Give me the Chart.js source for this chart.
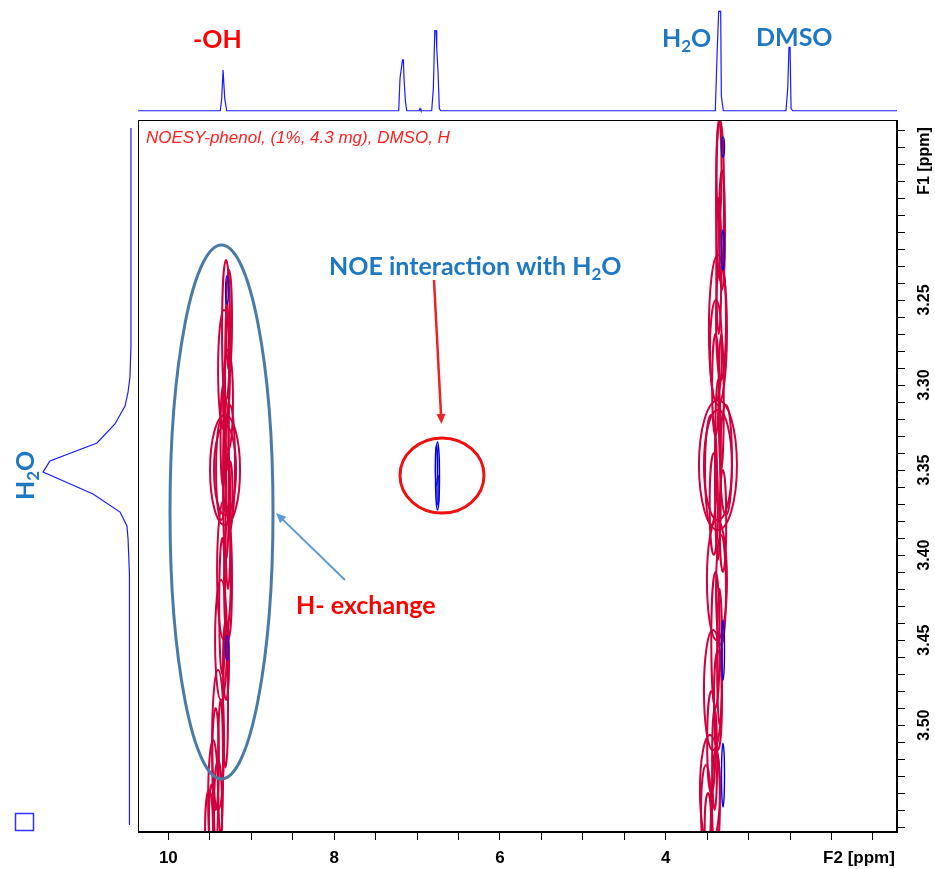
<!DOCTYPE html>
<html>
<head>
<meta charset="utf-8">
<title>NOESY phenol</title>
<script src="https://cdn.jsdelivr.net/npm/chart.js@4.4.1/dist/chart.umd.min.js"></script>
<style>
  html, body { margin: 0; padding: 0; background: #fff; }
  #wrap { position: relative; width: 935px; height: 869px; }
  #wrap canvas { position: absolute; }
  #main { left: 0; top: 0; }
  #top { left: 138px; top: 0; }
  #side { left: 0; top: 120px; }
</style>
</head>
<body>
<div id="wrap">
  <canvas id="main" width="935" height="869"></canvas>
  <canvas id="top" width="759" height="113"></canvas>
  <canvas id="side" width="138" height="712"></canvas>
</div>
<script>
// ---- axis ranges (ppm) ----
const F2_MIN = 1.210, F2_MAX = 10.366;
const F1_MIN = 3.1441, F1_MAX = 3.5629;

// ---- tick labels ----
const f2Labels = [10, 8, 6, 4];
const f1Labels = [3.25, 3.30, 3.35, 3.40, 3.45, 3.50];

// ---- 1D F2 trace on top: ppm / intensity ----
const specPpm = [10.366, 9.373, 9.356, 9.340, 9.330, 9.320, 9.296,
  7.221, 7.205, 7.175, 7.165, 7.157, 7.141, 7.124,
  6.975, 6.964, 6.953,
  6.823, 6.803, 6.786, 6.771, 6.762, 6.747, 6.731, 6.714,
  3.402, 3.378, 3.361, 3.337, 3.329, 3.305,
  2.549, 2.528, 2.513, 2.500, 2.488, 2.468, 1.210];
const specInt = [2, 2, 13, 38, 38, 13, 2,
  2, 31, 47, 47, 31, 11, 2,
  2, 4, 2,
  2, 22, 73, 73, 57, 37, 4, 2,
  2, 57, 90, 90, 15, 2,
  2, 22, 58, 58, 4, 2, 2];

// ---- 1D F1 projection on the left: ppm / intensity ----
const projPpm = [3.1488, 3.2771, 3.2950, 3.3041, 3.3124, 3.3229, 3.3341, 3.3447, 3.3512,
  3.3641, 3.3747, 3.3829, 3.3906, 3.4112, 3.5588];
const projInt = [5.1, 5.1, 5.8, 7.2, 9.4, 16.7, 29.7, 63.8, 68.8,
  32.6, 13, 8, 7.2, 6.2, 6.2];

// ---- 2D contours: [F2 centre, F1 centre, F2 half width, F1 half height] ----
const ohContours = [
  [9.304, 3.2676, 0.048, 0.0412], [9.268, 3.2618, 0.036, 0.0294], [9.328, 3.2912, 0.072, 0.0353],
  [9.280, 3.3088, 0.060, 0.0294], [9.316, 3.3500, 0.181, 0.0324], [9.316, 3.3500, 0.133, 0.0265],
  [9.364, 3.3500, 0.060, 0.0294], [9.256, 3.3471, 0.060, 0.0353], [9.304, 3.3559, 0.036, 0.0471],
  [9.328, 3.4088, 0.084, 0.0412], [9.280, 3.4147, 0.048, 0.0353], [9.364, 3.4500, 0.072, 0.0353],
  [9.304, 3.4618, 0.036, 0.0235], [9.400, 3.5088, 0.072, 0.0412], [9.460, 3.5441, 0.060, 0.0353],
  [9.400, 3.5500, 0.048, 0.0294], [9.509, 3.5618, 0.048, 0.0235],
  [9.292, 3.3000, 0.024, 0.0500], [9.340, 3.3300, 0.030, 0.0300], [9.280, 3.3800, 0.030, 0.0400],
  [9.350, 3.4300, 0.036, 0.0400], [9.310, 3.4900, 0.030, 0.0350], [9.430, 3.5200, 0.040, 0.0300],
  [9.480, 3.5550, 0.030, 0.0200], [9.370, 3.5250, 0.030, 0.0400], [9.250, 3.3650, 0.024, 0.0200]
];
const h2oContours = [
  [3.345, 3.1912, 0.048, 0.0471], [3.357, 3.1735, 0.030, 0.0294], [3.321, 3.2088, 0.036, 0.0353],
  [3.370, 3.2676, 0.109, 0.0441], [3.333, 3.2618, 0.060, 0.0353], [3.394, 3.2794, 0.072, 0.0294],
  [3.370, 3.3471, 0.229, 0.0382], [3.370, 3.3471, 0.169, 0.0324], [3.454, 3.3500, 0.072, 0.0324],
  [3.273, 3.3441, 0.072, 0.0324], [3.370, 3.3500, 0.036, 0.0529], [3.382, 3.4147, 0.121, 0.0353],
  [3.333, 3.4206, 0.060, 0.0324], [3.430, 3.4794, 0.109, 0.0353], [3.370, 3.4853, 0.048, 0.0294],
  [3.466, 3.5382, 0.121, 0.0324], [3.514, 3.5500, 0.060, 0.0265], [3.394, 3.5441, 0.048, 0.0294],
  [3.360, 3.2300, 0.030, 0.0400], [3.400, 3.3000, 0.040, 0.0300], [3.330, 3.3100, 0.030, 0.0400],
  [3.420, 3.3700, 0.050, 0.0300], [3.310, 3.3800, 0.040, 0.0300], [3.400, 3.4500, 0.050, 0.0400],
  [3.350, 3.4600, 0.030, 0.0400], [3.450, 3.5100, 0.050, 0.0300], [3.490, 3.5600, 0.040, 0.0200],
  [3.410, 3.5200, 0.030, 0.0300]
];
const negContours = [
  [9.292, 3.2441, 0.018, 0.0082], [9.292, 3.4547, 0.018, 0.0071],
  [3.309, 3.1600, 0.018, 0.0059], [3.309, 3.2206, 0.018, 0.0118],
  [3.309, 3.4559, 0.018, 0.0176], [3.309, 3.5294, 0.018, 0.0188],
  [6.753, 3.3535, 0.024, 0.0200], [6.765, 3.3471, 0.014, 0.0118], [6.747, 3.3618, 0.0120, 0.0088]
];

const RED = '#d0003c', BLUE = '#0000e6', TXT_BLUE = '#1e78c2', TXT_RED = '#ff0000';
const FONT = 'Lato, "Open Sans", sans-serif';

function drawContours(ctx, x, y, list, color, lw) {
  ctx.strokeStyle = color;
  ctx.lineWidth = lw;
  list.forEach(([cx, cy, rx, ry]) => {
    const px = x.getPixelForValue(cx), py = y.getPixelForValue(cy);
    const w = Math.abs(x.getPixelForValue(cx + rx) - px);
    const h = Math.abs(y.getPixelForValue(cy + ry) - py);
    ctx.beginPath();
    ctx.ellipse(px, py, w, h, 0, 0, Math.PI * 2);
    ctx.stroke();
  });
}

function arrow(ctx, x1, y1, x2, y2, color, lw, head) {
  const a = Math.atan2(y2 - y1, x2 - x1);
  ctx.strokeStyle = color; ctx.fillStyle = color; ctx.lineWidth = lw;
  ctx.beginPath();
  ctx.moveTo(x1, y1);
  ctx.lineTo(x2 - Math.cos(a) * head * 0.8, y2 - Math.sin(a) * head * 0.8);
  ctx.stroke();
  ctx.beginPath();
  ctx.moveTo(x2, y2);
  ctx.lineTo(x2 - head * Math.cos(a - 0.42), y2 - head * Math.sin(a - 0.42));
  ctx.lineTo(x2 - head * Math.cos(a + 0.42), y2 - head * Math.sin(a + 0.42));
  ctx.closePath();
  ctx.fill();
}

// text with a subscript "2": before, sub, after
function subText(ctx, before, sub, after, x, y, size) {
  ctx.font = 'bold ' + size + 'px ' + FONT;
  ctx.fillText(before, x, y);
  x += ctx.measureText(before).width;
  ctx.font = 'bold ' + Math.round(size * 0.66) + 'px ' + FONT;
  ctx.fillText(sub, x, y + size * 0.2);
  x += ctx.measureText(sub).width;
  ctx.font = 'bold ' + size + 'px ' + FONT;
  ctx.fillText(after, x, y);
}

function ellipse(ctx, cx, cy, rx, ry, color, lw) {
  ctx.strokeStyle = color; ctx.lineWidth = lw;
  ctx.beginPath();
  ctx.ellipse(cx, cy, rx, ry, 0, 0, Math.PI * 2);
  ctx.stroke();
}

const decor = {
  id: 'decor',
  afterDraw(chart) {
    const { ctx, chartArea: a, scales: { x, y } } = chart;

    // contours, clipped to the plot
    ctx.save();
    ctx.beginPath();
    ctx.rect(a.left, a.top, a.right - a.left, a.bottom - a.top);
    ctx.clip();
    drawContours(ctx, x, y, ohContours, RED, 2);
    drawContours(ctx, x, y, h2oContours, RED, 2);
    drawContours(ctx, x, y, negContours, BLUE, 1.4);
    ctx.restore();

    ctx.save();
    // frame
    ctx.strokeStyle = '#000'; ctx.lineWidth = 1;
    ctx.strokeRect(a.left + 0.5, a.top + 0.5, a.right - a.left - 1, a.bottom - a.top - 1);

    // tick labels
    ctx.fillStyle = '#000';
    ctx.font = 'bold 17px "Liberation Sans", Arial, sans-serif';
    ctx.textAlign = 'center'; ctx.textBaseline = 'middle';
    f2Labels.forEach(v => ctx.fillText(String(v), x.getPixelForValue(v), 858));
    ctx.fillText('F2 [ppm]', 859, 858);
    ctx.font = 'bold 16px "Liberation Sans", Arial, sans-serif';
    f1Labels.forEach(v => {
      ctx.save();
      ctx.translate(925, y.getPixelForValue(v));
      ctx.rotate(-Math.PI / 2);
      ctx.fillText(v.toFixed(2), 0, 0);
      ctx.restore();
    });
    ctx.save();
    ctx.translate(925, 161);
    ctx.rotate(-Math.PI / 2);
    ctx.fillText('F1 [ppm]', 0, 0);
    ctx.restore();

    // title in the plot
    ctx.textAlign = 'left'; ctx.textBaseline = 'alphabetic';
    ctx.fillStyle = '#ff2020';
    ctx.font = 'italic 17px "Liberation Sans", Arial, sans-serif';
    ctx.fillText('NOESY-phenol, (1%, 4.3 mg), DMSO, H', 146, 143);

    // peak labels above the 1D trace
    ctx.fillStyle = TXT_RED;
    ctx.font = 'bold 25px ' + FONT;
    ctx.fillText('-OH', 193, 48);
    ctx.fillStyle = TXT_BLUE;
    subText(ctx, 'H', '2', 'O', 662, 47, 25);
    ctx.font = 'bold 25px ' + FONT;
    ctx.fillText('DMSO', 756, 46);

    // rotated H2O by the F1 projection
    ctx.save();
    ctx.translate(34, 500);
    ctx.rotate(-Math.PI / 2);
    subText(ctx, 'H', '2', 'O', 0, 0, 25);
    ctx.restore();

    // annotations
    ellipse(ctx, 221.5, 512, 51.5, 267, '#4a7ba7', 3);
    ellipse(ctx, 442, 475.5, 42, 37.5, '#ee1111', 3);
    arrow(ctx, 434, 280, 441.5, 424, '#ee2222', 2.5, 11);
    arrow(ctx, 345, 580, 276, 513, '#5b9bd5', 2, 11);

    ctx.fillStyle = TXT_BLUE;
    subText(ctx, 'NOE interaction with H', '2', 'O', 329, 275, 25);
    ctx.fillStyle = TXT_RED;
    ctx.font = 'bold 25px ' + FONT;
    ctx.fillText('H- exchange', 296, 614);

    // small square bottom left
    ctx.strokeStyle = '#3030ff'; ctx.lineWidth = 1.5;
    ctx.strokeRect(15.5, 813.5, 18, 17);
    ctx.restore();
  }
};

new Chart(document.getElementById('main'), {
  type: 'scatter',
  data: { datasets: [] },
  options: {
    responsive: false,
    animation: false,
    layout: { padding: { left: 138, top: 120, right: 0, bottom: 0 } },
    plugins: { legend: { display: false }, tooltip: { enabled: false } },
    scales: {
      x: {
        type: 'linear', position: 'bottom', reverse: true, min: F2_MIN, max: F2_MAX,
        afterFit: s => { s.height = 37; },
        ticks: { display: false, stepSize: 0.5, includeBounds: false },
        grid: { drawOnChartArea: false, tickLength: 8, color: '#000' },
        border: { color: '#000' }
      },
      y: {
        type: 'linear', position: 'right', reverse: true, min: F1_MIN, max: F1_MAX,
        afterFit: s => { s.width = 38; },
        ticks: { display: false, stepSize: 0.01, includeBounds: false },
        grid: { drawOnChartArea: false, tickLength: 8, color: '#000' },
        border: { color: '#000' }
      }
    }
  },
  plugins: [decor]
});

// ---- top 1D spectrum ----
new Chart(document.getElementById('top'), {
  type: 'scatter',
  data: {
    datasets: [{
      data: specPpm.map((p, i) => ({ x: p, y: specInt[i] })),
      showLine: true, borderColor: '#1a1aff', borderWidth: 1.2, pointRadius: 0, tension: 0
    }]
  },
  options: {
    responsive: false, animation: false,
    plugins: { legend: { display: false }, tooltip: { enabled: false } },
    scales: {
      x: { type: 'linear', reverse: true, min: F2_MIN, max: F2_MAX, display: false },
      y: { type: 'linear', min: 0, max: 100, display: false }
    }
  }
});

// ---- left F1 projection ----
new Chart(document.getElementById('side'), {
  type: 'scatter',
  data: {
    datasets: [{
      data: projPpm.map((p, i) => ({ x: projInt[i], y: p })),
      showLine: true, borderColor: '#1a1aff', borderWidth: 1.2, pointRadius: 0, tension: 0
    }]
  },
  options: {
    responsive: false, animation: false,
    plugins: { legend: { display: false }, tooltip: { enabled: false } },
    scales: {
      x: { type: 'linear', reverse: true, min: 0, max: 100, display: false },
      y: { type: 'linear', reverse: true, min: F1_MIN, max: F1_MAX, display: false }
    }
  }
});
</script>
</body>
</html>
